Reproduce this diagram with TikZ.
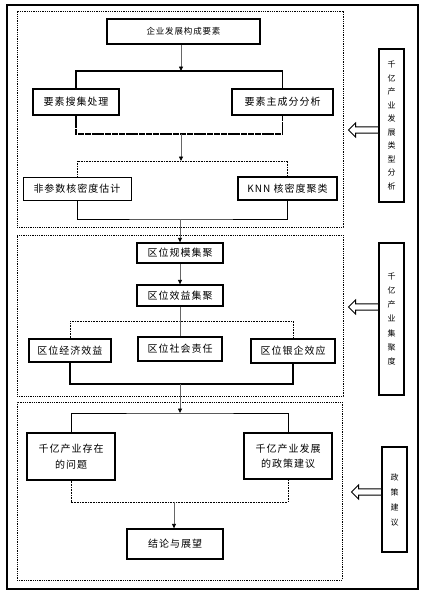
\documentclass[tikz,border=0pt]{standalone}
\usepackage{fontspec}
\setmainfont{Noto Sans CJK SC}[LetterSpace=10]
\usetikzlibrary{arrows.meta,shapes.arrows}

\begin{document}
\begin{tikzpicture}[x=1pt, y=-1pt,
  box/.style={draw=black, line width=1.3pt, inner sep=0pt, font=\fontsize{10}{15.5}\selectfont, align=center},
  side/.style={draw=black, line width=1.3pt, inner sep=0pt, font=\fontsize{8}{13.5}\selectfont, align=center},
  panel/.style={draw=black, line width=0.9pt, dash pattern=on 1pt off 0.8pt, inner sep=0pt},
  link/.style={draw=black!60, line width=0.8pt, -{Triangle[length=4.5pt,width=4pt,black]}},
  brace/.style={draw=black, line width=0.9pt},
  hollow/.style={single arrow, draw=black, line width=0.9pt, fill=white, shape border rotate=180,
    minimum height=30pt, minimum width=14pt, single arrow head extend=2.5pt, single arrow tip angle=90, inner sep=1.5pt}]
  \useasboundingbox (0,0) rectangle (425,603);
  \draw[line width=1.6pt] (7,5) rectangle (418,589);

  % three panels
  \node[panel, minimum width=326pt, minimum height=216pt] (p1) at (180,119) {};
  \node[panel, minimum width=326pt, minimum height=161pt] (p2) at (180,315.5) {};
  \node[panel, minimum width=325pt, minimum height=178pt] (p3) at (179.5,491) {};

  % panel 1
  \node[box, font=\fontsize{8.5}{10}\selectfont, minimum width=153pt, minimum height=25pt] (elem) at (183.5,31.5) {企业发展构成要素};
  \coordinate (t1) at (181,71);
  \draw[link] (elem.south -| t1) -- (t1);

  \node[box, minimum width=86pt, minimum height=26pt] (collect) at (76,102) {要素搜集处理};
  \node[box, minimum width=101pt, minimum height=26pt] (pca) at (282.5,102) {要素主成分分析};
  \draw[brace, line width=1.3pt] (collect.north) |- (t1) -| (pca.north);

  \coordinate (b1) at (181,134);
  \draw[brace, line width=1.3pt, dash pattern=on 6pt off 0.8pt] (collect.south) |- (b1) -| (pca.south);

  \coordinate (t2) at (181,161);
  \draw[link] (b1) -- (t2);

  \node[box, line width=1pt, minimum width=108pt, minimum height=23pt] (kde) at (77,188.5) {非参数核密度估计};
  \node[box, minimum width=99pt, minimum height=23pt] (knn) at (287.5,188.5) {KNN 核密度聚类};
  \draw[brace, dash pattern=on 1pt off 0.6pt] (kde.north) |- (t2) -| (knn.north);

  \coordinate (b2) at (180,219);
  \draw[brace] (kde.south) |- (b2) -| (knn.south);

  % panel 2
  \node[box, minimum width=86pt, minimum height=20pt] (scale) at (180,253) {区位规模集聚};
  \draw[link] (b2) -- (scale.north);

  \node[box, minimum width=86pt, minimum height=21pt] (benefit) at (180,295.5) {区位效益集聚};
  \draw[link] (scale.south) -- (benefit.north);

  \coordinate (t3) at (180,321);
  \draw[draw=black!60, line width=0.8pt] (benefit.south) -- (t3);

  \node[box, minimum width=82pt, minimum height=23pt] (econ) at (70,350.5) {区位经济效益};
  \node[box, minimum width=84pt, minimum height=24pt] (social) at (180,349) {区位社会责任};
  \node[box, minimum width=84pt, minimum height=24pt] (bank) at (293,351) {区位银企效应};
  \draw[brace, dash pattern=on 1pt off 0.6pt] (econ.north) |- (t3) -| (bank.north);
  \draw[draw=black!60, line width=0.8pt] (t3) -- (social.north);

  \coordinate (b3) at (180,384);
  \draw[brace, line width=1.2pt] (econ.south) |- (b3) -| (bank.south);

  % panel 3
  \coordinate (t4) at (180,413);
  \draw[link] (b3) -- (t4);

  \node[box, minimum width=88pt, minimum height=47pt] (issue) at (71,456.5) {千亿产业存在\\的问题};
  \node[box, minimum width=88pt, minimum height=46pt] (policy) at (288,456) {千亿产业发展\\的政策建议};
  \draw[brace] (issue.north) |- (t4) -| (policy.north);

  \coordinate (b4) at (174,502);
  \draw[brace, dash pattern=on 1pt off 0.6pt] (issue.south) |- (b4) -| (policy.south);

  \node[box, minimum width=96pt, minimum height=30pt] (concl) at (175,544) {结论与展望};
  \draw[link] (b4) -- (b4 |- concl.north);

  % side notes
  \node[side, minimum width=25pt, minimum height=153pt] (side1) at (391.5,125.5) {千\\亿\\产\\业\\发\\展\\类\\型\\分\\析};
  \node[side, minimum width=25pt, minimum height=152pt, font=\fontsize{8}{14.3}\selectfont] (side2) at (391.5,319) {千\\亿\\产\\业\\集\\聚\\度};
  \node[side, minimum width=25pt, minimum height=105pt, font=\fontsize{8}{15}\selectfont] (side3) at (394.5,499.5) {政\\策\\建\\议};

  \node[hollow, anchor=tail] (a1) at (379,130) {};
  \node[hollow, anchor=tail] (a2) at (379,307) {};
  \node[hollow, anchor=tail] (a3) at (382,492) {};
\end{tikzpicture}
\end{document}
